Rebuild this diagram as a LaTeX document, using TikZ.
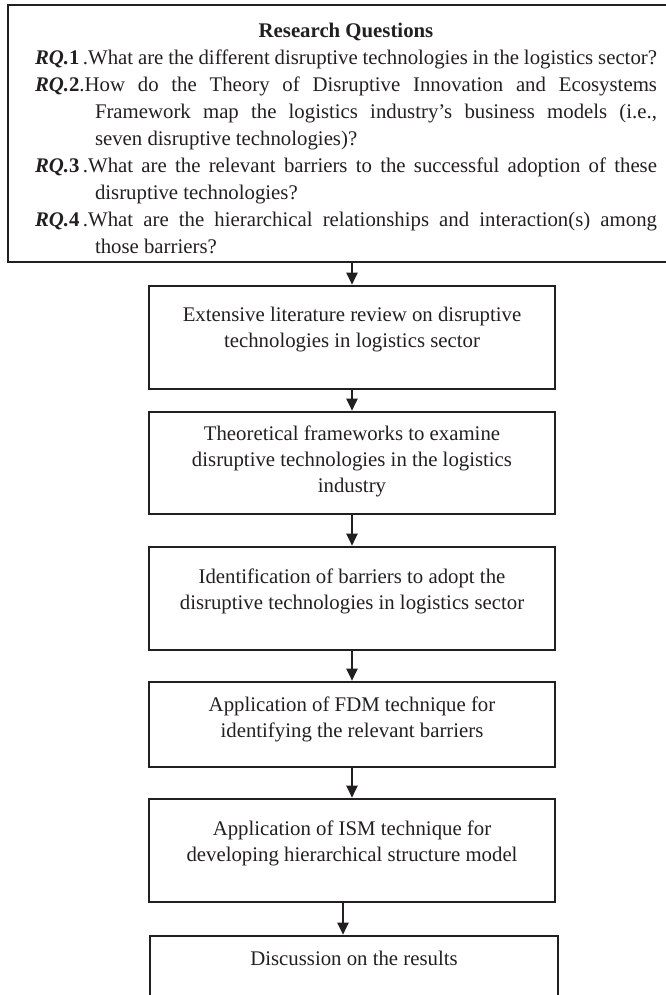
\documentclass[tikz,border=0pt]{standalone}
\usepackage{fontspec}
\setmainfont{Liberation Serif}
\usetikzlibrary{arrows.meta}
\definecolor{ink}{HTML}{231F20}
\newcommand{\rqlab}[1]{\textbf{\textit{RQ.}#1}}

\begin{document}
\begin{tikzpicture}[x=0.5pt,y=-0.5pt,
		stage/.style={draw=ink, line width=1.3pt, minimum width=203pt},
		stagetext/.style={align=center, text=ink, font=\fontsize{10.4pt}{13pt}\selectfont},
		link/.style={draw=ink, line width=1.1pt, -{Triangle[length=6pt,width=5.5pt]}}]
		\useasboundingbox (0,0) rectangle (665,995);
		% research questions
		\node[draw=ink, line width=1.4pt, minimum width=338pt, minimum height=128.5pt] (rq) at (346,133.5) {};
		\node[text width=311pt, align=justify, inner sep=0pt, text=ink, font=\fontsize{10.4pt}{13.5pt}\selectfont] (rqtxt) at (346,138) {%
			{\centering\bfseries Research Questions\par}
			\hangindent=30pt\hangafter=1 \rqlab{1}\,.What are the different disruptive technologies in the logistics sector?\par
			\hangindent=30pt\hangafter=1 \rqlab{2}.How do the Theory of Disruptive Innovation and Ecosystems\linebreak Framework map the logistics industry's business models (i.e.,\linebreak seven disruptive technologies)?\par
			\hangindent=30pt\hangafter=1 \rqlab{3}\,.What are the relevant barriers to the successful adoption of these\linebreak disruptive technologies?\par
			\hangindent=30pt\hangafter=1 \rqlab{4}\,.What are the hierarchical relationships and interaction(s) among\linebreak those barriers?\par};
		% steps
		\node[stage, minimum height=51.5pt] (lit) at (352,337.5) {};
		\node[stagetext] (littxt) at (352,330) {Extensive literature review on disruptive\\technologies in logistics sector};
		\node[stage, minimum height=51pt] (frame) at (352,463) {};
		\node[stagetext] (frametxt) at (352,461) {Theoretical frameworks to examine\\disruptive technologies in the logistics\\industry};
		\node[stage, minimum height=51.5pt] (barr) at (352,598.5) {};
		\node[stagetext] (barrtxt) at (352,591) {Identification of barriers to adopt the\\disruptive technologies in logistics sector};
		\node[stage, minimum height=42.5pt] (fdm) at (352,724.5) {};
		\node[stagetext] (fdmtxt) at (352,719.5) {Application of FDM technique for\\identifying the relevant barriers};
		\node[stage, minimum height=51.5pt] (ism) at (352,850.5) {};
		\node[stagetext] (ismtxt) at (352,843.5) {Application of ISM technique for\\developing hierarchical structure model};
		\node[stage, minimum width=204pt, minimum height=40pt] (disc) at (354,976) {};
		\node[stagetext] (disctxt) at (354,958) {Discussion on the results};
		% arrows
		\draw[link] (lit.north |- rq.south) -- (lit);
		\draw[link] (lit) -- (frame);
		\draw[link] (frame) -- (barr);
		\draw[link] (barr) -- (fdm);
		\draw[link] (fdm) -- (ism);
		\draw[link] ([xshift=-4.5pt]ism.south) -- ([xshift=-4.5pt]ism.south |- disc.north);
	\end{tikzpicture}
\end{document}
